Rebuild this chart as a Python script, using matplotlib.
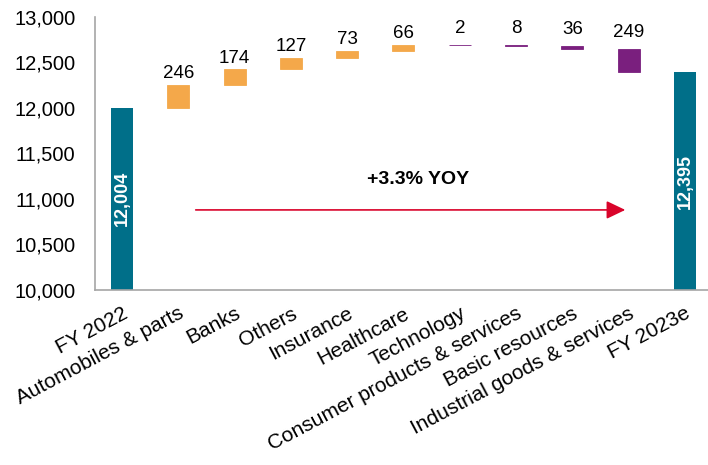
import numpy as np
import matplotlib.pyplot as plt

plt.rcParams['font.family'] = ['Liberation Sans', 'DejaVu Sans']

categories = ['FY 2022', 'Automobiles & parts', 'Banks', 'Others', 'Insurance',
              'Healthcare', 'Technology', 'Consumer products & services',
              'Basic resources', 'Industrial goods & services', 'FY 2023e']
start_total = 12004
changes = [246, 174, 127, 73, 66, -2, -8, -36, -249]
end_total = 12395
yoy_text = '+3.3% YOY'

teal = '#006F89'
orange = '#F4A84A'
purple = '#7A1F7E'

fig = plt.figure(figsize=(7.08, 4.65), dpi=100)
ax = fig.add_axes([95/708, 1-290/465, 1-95/708, (290-17)/465])

x = np.arange(len(categories))
w = 0.39

# totals
ax.bar(x[0], start_total - 10000, bottom=10000, width=w, color=teal)
ax.bar(x[-1], end_total - 10000, bottom=10000, width=w, color=teal)
ax.text(x[0], (10000 + start_total)/2, f'{start_total:,}', rotation=90, color='white',
        fontweight='bold', fontsize=13, ha='center', va='center')
ax.text(x[-1], (10000 + end_total)/2, f'{end_total:,}', rotation=90, color='white',
        fontweight='bold', fontsize=13, ha='center', va='center')

# floating steps
level = start_total
for i, c in enumerate(changes, start=1):
    lo = level if c > 0 else level + c
    col = orange if c > 0 else purple
    ax.bar(x[i], abs(c), bottom=lo, width=w, color=col, edgecolor=col, linewidth=0.6)
    top = max(level, level + c)
    off = 2 if c > 0 else 6
    ax.annotate(f'{abs(c)}', (x[i], top), xytext=(0, off), textcoords='offset points',
                ha='center', va='bottom', fontsize=13.5)
    level += c

# yoy arrow
ax.annotate('', xy=(8.99, 10880), xytext=(1.26, 10880),
            arrowprops=dict(arrowstyle='-|>,head_length=1.15,head_width=0.55',
                            color='#D9042B', lw=1.2))
ax.text(5.26, 11210, yoy_text, fontsize=14, fontweight='bold', ha='center', va='center')

ax.set_ylim(10000, 13000)
ax.set_xlim(-0.48, 10.41)
ax.set_yticks(np.arange(10000, 13001, 500))
ax.set_yticklabels([f'{v:,}' for v in range(10000, 13001, 500)], fontsize=14.5)
ax.set_xticks(x)
ax.set_xticklabels(categories, rotation=28, ha='right', rotation_mode='anchor', fontsize=15)
ax.tick_params(axis='y', length=0, pad=14)
ax.tick_params(axis='x', length=0, pad=10)
for s in ['top', 'right']:
    ax.spines[s].set_visible(False)
for s in ['left', 'bottom']:
    ax.spines[s].set_color('#A6A6A6')
    ax.spines[s].set_linewidth(1.2)

fig.savefig('out.png', dpi=100)
